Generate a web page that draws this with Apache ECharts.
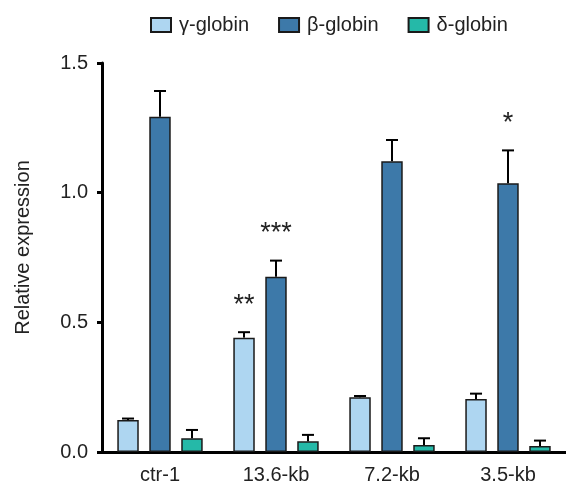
<!DOCTYPE html>
<html>
<head>
<meta charset="utf-8">
<script src="https://cdn.jsdelivr.net/npm/echarts@6/dist/echarts.min.js"></script>
<style>
html,body{margin:0;padding:0;background:#fff;}
#chart{width:566px;height:487px;}
</style>
</head>
<body>
<div id="chart"></div>
<script>
const categories = ['ctr-1', '13.6-kb', '7.2-kb', '3.5-kb'];
const seriesNames = ['γ-globin', 'β-globin', 'δ-globin'];
const gammaValues = [0.123, 0.441, 0.211, 0.204];
const gammaErrors = [0.006, 0.021, 0.005, 0.021];
const betaValues = [1.293, 0.676, 1.121, 1.036];
const betaErrors = [0.099, 0.062, 0.082, 0.127];
const deltaValues = [0.053, 0.041, 0.027, 0.023];
const deltaErrors = [0.032, 0.025, 0.026, 0.021];
const gammaSig = ['', '**', '', ''];
const betaSig = ['', '***', '', '*'];
const deltaSig = ['', '', '', ''];
const yMin = 0, yMax = 1.5, yStep = 0.5;

const colors = ['#aed6f1', '#3d79a9', '#25b9a8'];
const FONT = '"Liberation Sans", Arial, sans-serif';
const TEXT = '#222';
const BAR_FRAC = 0.185;
const GAP_FRAC = 0.49;

function barSeries(idx, values) {
  return {
    type: 'bar', name: seriesNames[idx], data: values,
    barWidth: (BAR_FRAC * 100) + '%', barGap: (GAP_FRAC * 100) + '%',
    itemStyle: {color: colors[idx], borderColor: '#1a1a1a', borderWidth: 1.5},
    emphasis: {disabled: true}
  };
}

function errSeries(idx, values, errors, sig) {
  return {
    type: 'custom', name: 'err' + idx, z: 10, silent: true,
    data: values.map((v, i) => [i, v, v + errors[i]]),
    encode: {x: 0, y: [1, 2]},
    renderItem: function (params, api) {
      const ci = api.value(0);
      const base = api.coord([ci, api.value(1)]);
      const top = api.coord([ci, api.value(2)]);
      const catW = api.size([1, 0])[0];
      const bw = catW * BAR_FRAC;
      const x = base[0] + (idx - 1) * bw * (1 + GAP_FRAC);
      const capHalf = bw * 0.28;
      const children = [
        {type: 'line', shape: {x1: x, y1: base[1], x2: x, y2: top[1]}, style: {stroke: '#000', lineWidth: 2}},
        {type: 'line', shape: {x1: x - capHalf, y1: top[1], x2: x + capHalf, y2: top[1]}, style: {stroke: '#000', lineWidth: 2}}
      ];
      const s = sig[params.dataIndex];
      if (s) {
        children.push({type: 'text', style: {text: s, x: x, y: top[1] - 27, align: 'center', verticalAlign: 'middle',
          fontSize: 27, fontFamily: FONT, fill: TEXT}});
      }
      return {type: 'group', children: children};
    }
  };
}

const chart = echarts.init(document.getElementById('chart'), null, {renderer: 'canvas'});
chart.setOption({
  animation: false,
  backgroundColor: '#fff',
  legend: {
    data: seriesNames, left: 145, top: 10, itemWidth: 20, itemHeight: 14, itemGap: 29,
    icon: 'rect',
    textStyle: {fontSize: 20, fontFamily: FONT, color: TEXT, padding: [0, 0, 0, 3]}
  },
  grid: {left: 102, top: 63, width: 466, bottom: 35, containLabel: false},
  xAxis: {
    type: 'category', data: categories,
    axisLine: {lineStyle: {color: '#000', width: 3}},
    axisTick: {alignWithLabel: true, length: 6, lineStyle: {color: '#000', width: 3}},
    axisLabel: {fontSize: 20, fontFamily: FONT, color: TEXT, margin: 13}
  },
  yAxis: {
    type: 'value', min: yMin, max: yMax, interval: yStep,
    name: 'Relative expression', nameLocation: 'middle', nameGap: 69,
    nameTextStyle: {fontSize: 20, fontFamily: FONT, color: TEXT, padding: [0, 0, 0, 20]},
    axisLine: {show: true, lineStyle: {color: '#000', width: 3}},
    axisTick: {show: true, length: 5, lineStyle: {color: '#000', width: 3}},
    splitLine: {show: false},
    axisLabel: {fontSize: 20, fontFamily: FONT, color: TEXT, margin: 14, formatter: v => v.toFixed(1)}
  },
  series: [
    barSeries(0, gammaValues), barSeries(1, betaValues), barSeries(2, deltaValues),
    errSeries(0, gammaValues, gammaErrors, gammaSig),
    errSeries(1, betaValues, betaErrors, betaSig),
    errSeries(2, deltaValues, deltaErrors, deltaSig)
  ]
});
</script>
</body>
</html>
